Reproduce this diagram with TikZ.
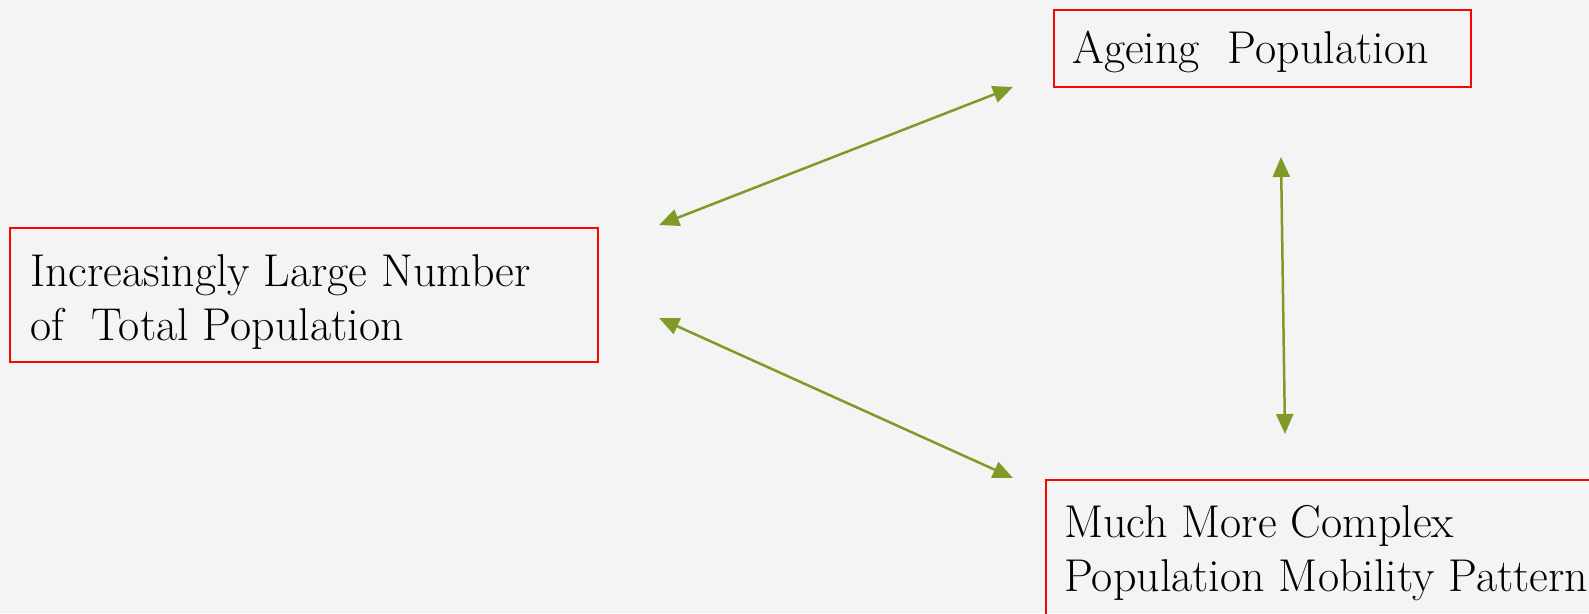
\documentclass[tikz,border=0pt]{standalone}
\usetikzlibrary{arrows.meta}
\definecolor{bg}{RGB}{244,244,244}
\definecolor{boxred}{RGB}{255,0,0}
\definecolor{olive}{RGB}{128,154,40}
\tikzset{
  redbox/.style={draw=boxred, line width=1.5pt},
  lbl/.style={inner sep=0pt, anchor=base west, font=\fontsize{46}{54}\selectfont, align=left},
  conn/.style={draw=olive, line width=2.5pt, {Triangle[length=20pt,width=17pt]}-{Triangle[length=20pt,width=17pt]}}
}
\begin{document}
\begin{tikzpicture}[x=1pt,y=-1pt]
  \fill[bg] (0,0) rectangle (1589,613);
  \useasboundingbox (0,0) rectangle (1589,613);
  % boxes
  \draw[redbox] (1054,10) rectangle (1471,87);
  \draw[redbox] (10,228) rectangle (598,362);
  \draw[redbox] (1046,480) rectangle (1600,630);
  % texts (base anchor = baseline of last line)
  \node[lbl] (ageing) at (1072,63) {Ageing~ Population};
  \node[lbl] (total) at (30,340) {Increasingly Large Number\\of~ Total Population};
  \node[lbl] (mobility) at (1064,591) {Much More Complex\\Population Mobility Pattern};
  % connector ends
  \coordinate (a1s) at (659,225);
  \coordinate (a1e) at (1013,87);
  \coordinate (a2s) at (659,318);
  \coordinate (a2e) at (1013,478);
  \coordinate (a3s) at (1281,157);
  \coordinate (a3e) at (1285,434);
  \draw[conn] (a1s) -- (a1e);
  \draw[conn] (a2s) -- (a2e);
  \draw[conn] (a3s) -- (a3e);
\end{tikzpicture}
\end{document}
